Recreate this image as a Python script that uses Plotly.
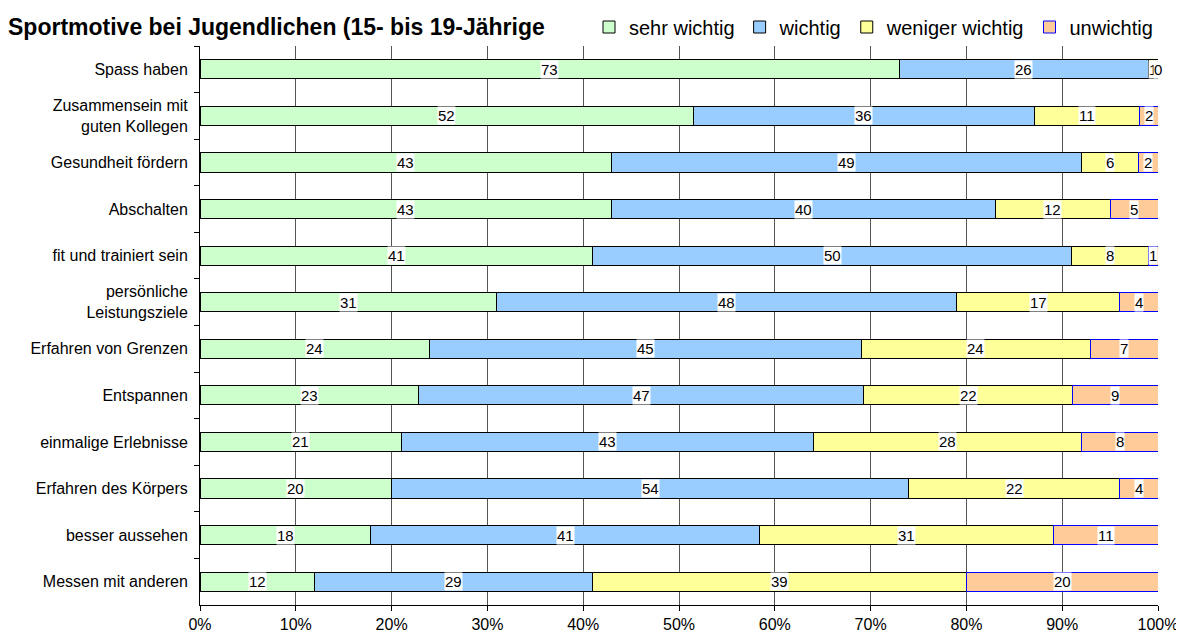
import plotly.graph_objects as go

categories = ["Spass haben", "Zusammensein mit<br>guten Kollegen", "Gesundheit fördern",
              "Abschalten", "fit und trainiert sein", "persönliche<br>Leistungsziele",
              "Erfahren von Grenzen", "Entspannen", "einmalige Erlebnisse",
              "Erfahren des Körpers", "besser aussehen", "Messen mit anderen"]
sehr_wichtig = [73, 52, 43, 43, 41, 31, 24, 23, 21, 20, 18, 12]
wichtig = [26, 36, 49, 40, 50, 48, 45, 47, 43, 54, 41, 29]
weniger_wichtig = [1, 11, 6, 12, 8, 17, 24, 22, 28, 22, 31, 39]
unwichtig = [0, 2, 2, 5, 1, 4, 7, 9, 8, 4, 11, 20]

series = [
    ("sehr wichtig", sehr_wichtig, "#CCFFCC", "#000000"),
    ("wichtig", wichtig, "#99CCFF", "#000000"),
    ("weniger wichtig", weniger_wichtig, "#FFFF99", "#000000"),
    ("unwichtig", unwichtig, "#FFCC99", "#0000FF"),
]

FONT = "Liberation Sans, Arial, sans-serif"
W, H = 1176, 625
fig = go.Figure()
for name, vals, col, lcol in series:
    fig.add_trace(go.Bar(
        y=categories, x=vals, name=name, orientation="h",
        marker=dict(color=col, line=dict(color=lcol, width=1)),
    ))

# value labels with white background at segment centres
totals = [sum(s[1][i] for s in series) for i in range(len(categories))]
annotations = []
cum = [0] * len(categories)
for name, vals, col, lcol in series:
    for i, v in enumerate(vals):
        mid = (cum[i] + v / 2) / totals[i] * 100
        cum[i] += v
        annotations.append(dict(
            x=mid, y=categories[i], xref="x", yref="y", text=str(v),
            showarrow=False, bgcolor="white", borderpad=0,
            font=dict(family=FONT, size=15, color="black"),
        ))

fig.update_layout(
    barmode="stack", barnorm="percent", bargap=0.59,
    width=W, height=H,
    margin=dict(l=192, r=26, t=38, b=28, autoexpand=False),
    paper_bgcolor="white", plot_bgcolor="white",
    font=dict(family=FONT, size=16, color="black"),
    title=dict(text="<b>Sportmotive bei Jugendlichen (15- bis 19-Jährige</b>",
               x=0.0, xanchor="left", xref="container",
               y=1 - 19 / H, yanchor="middle", yref="container",
               pad=dict(l=0, r=0, t=0, b=0),
               font=dict(family=FONT, size=23, color="black")),
    legend=dict(orientation="h", x=1.0, xanchor="right", xref="paper",
                y=1 - 19 / H, yanchor="middle", yref="container",
                font=dict(family=FONT, size=20, color="black"),
                traceorder="normal", itemwidth=30, bgcolor="rgba(0,0,0,0)"),
    annotations=annotations,
    showlegend=True,
)
fig.update_xaxes(range=[0, 100], dtick=10, ticksuffix="%", showgrid=True,
                 gridcolor="#555555", gridwidth=1, showline=True, linecolor="black",
                 ticks="outside", ticklen=5, tickcolor="black",
                 ticklabelstandoff=0, zeroline=False,
                 tickfont=dict(family=FONT, size=16), mirror=False)
fig.update_yaxes(autorange="reversed", showline=True, linecolor="black",
                 ticks="outside", ticklen=5, tickcolor="black", tickson="boundaries",
                 ticklabelstandoff=8,
                 showgrid=False, tickfont=dict(family=FONT, size=16))

fig.write_html("out.html")
